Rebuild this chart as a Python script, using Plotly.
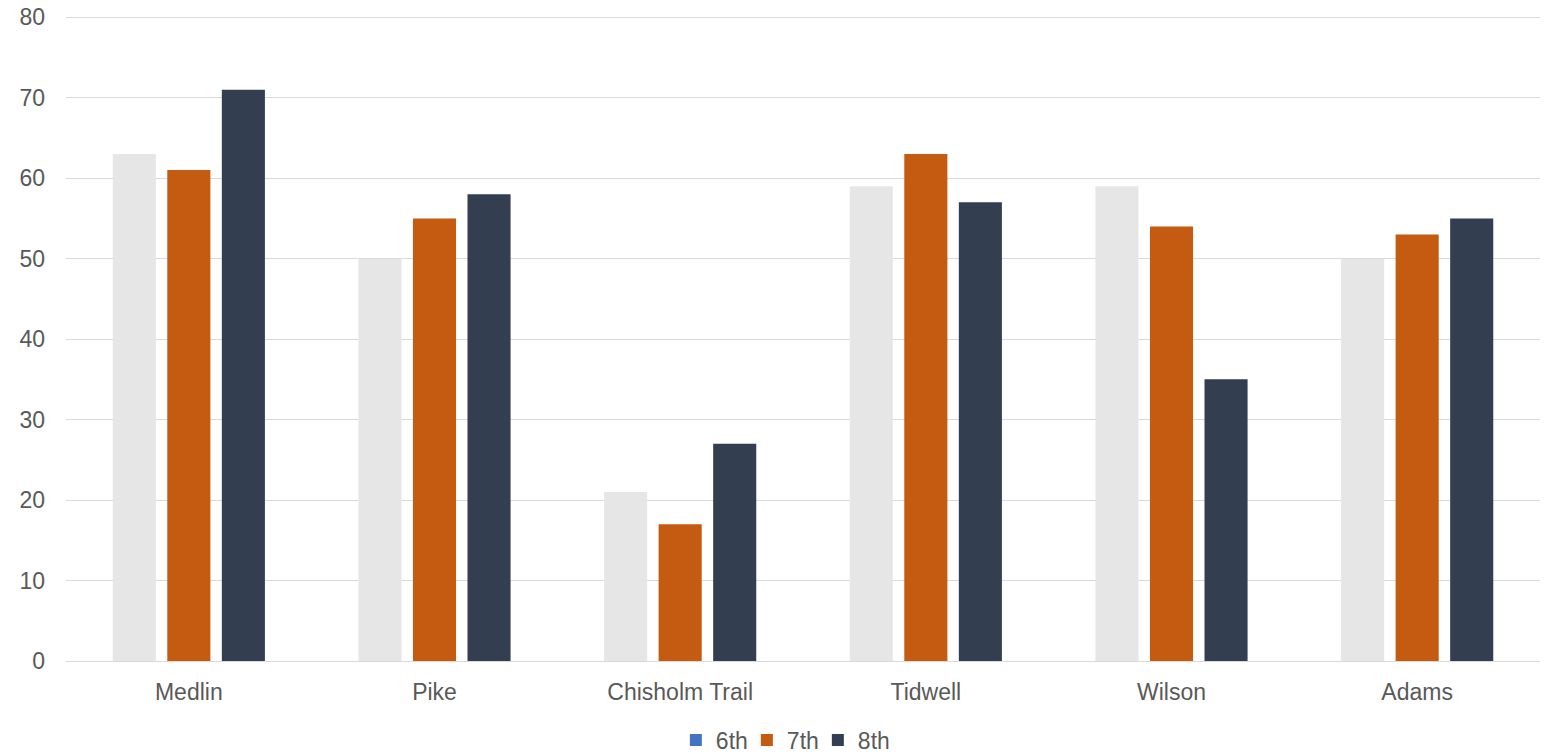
import plotly.graph_objects as go

categories = ["Medlin", "Pike", "Chisholm Trail", "Tidwell", "Wilson", "Adams"]
s6 = [63, 50, 21, 59, 59, 50]
s7 = [61, 55, 17, 63, 54, 53]
s8 = [71, 58, 27, 57, 35, 55]
y_ticks = [0, 10, 20, 30, 40, 50, 60, 70, 80]

font = dict(family="Liberation Sans, Arial, sans-serif", size=23, color="#595959")

fig = go.Figure()
fig.add_trace(go.Bar(x=categories, y=s6, name="6th", marker=dict(color="#E7E6E6", line_width=0),
                     offsetgroup="a", showlegend=False))
fig.add_trace(go.Bar(x=categories[:1], y=[0], name="6th", marker=dict(color="#4472C4", line_width=0),
                     offsetgroup="a", showlegend=True, hoverinfo="skip"))
fig.add_trace(go.Bar(x=categories, y=s7, name="7th", marker=dict(color="#C55A11", line_width=0),
                     offsetgroup="b"))
fig.add_trace(go.Bar(x=categories, y=s8, name="8th", marker=dict(color="#333F50", line_width=0),
                     offsetgroup="c"))

fig.update_layout(
    width=1549, height=754,
    margin=dict(l=66, r=9, t=14, b=93, autoexpand=False),
    paper_bgcolor="white", plot_bgcolor="white",
    barmode="group", bargap=0.334, bargroupgap=0.21,
    font=font,
    legend=dict(orientation="h", x=0.486, xanchor="center", y=-0.122, yanchor="middle",
                font=font, entrywidth=26, traceorder="normal"),
)
fig.update_yaxes(range=[0, 80.4], tickvals=y_ticks, showgrid=True, gridcolor="#D9D9D9", gridwidth=1,
                 zeroline=False, showline=False, ticklabelstandoff=20, automargin=False,
                 ticklabeloverflow="allow")
fig.update_xaxes(showline=True, linecolor="#D9D9D9", linewidth=1, showgrid=False,
                 ticklabelstandoff=10, automargin=False)

fig.write_html(
    "out.html",
    config={"displayModeBar": False},
    post_script="document.body.style.margin='0';document.body.style.overflow='hidden';",
)
